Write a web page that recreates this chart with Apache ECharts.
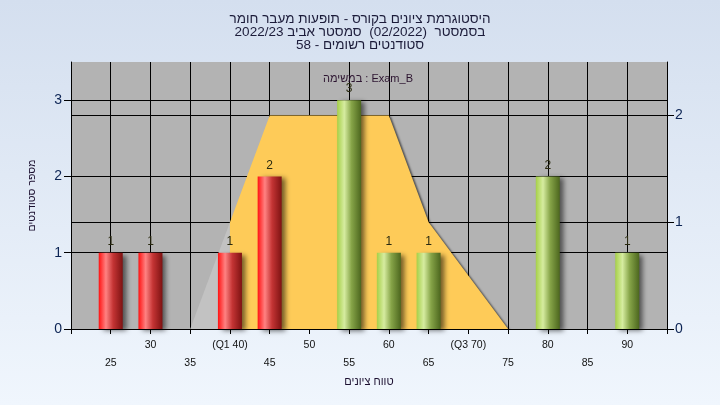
<!DOCTYPE html>
<html>
<head>
<meta charset="utf-8">
<script src="https://cdn.jsdelivr.net/npm/echarts@6/dist/echarts.min.js"></script>
<style>html,body{margin:0;padding:0;}#c{width:720px;height:405px;}</style>
</head>
<body>
<div id="c"></div>
<script>
const titleLines = [
  'היסטוגרמת ציונים בקורס - תופעות מעבר חומר',
  'בסמסטר  (02/2022)  סמסטר אביב 2022/23',
  'סטודנטים רשומים - 58'
];
const legendText = 'במשימה : Exam_B';
const xAxisName = 'טווח ציונים';
const yAxisName = 'מספר סטודנטים';
const xTickValues = [25, 30, 35, 40, 45, 50, 55, 60, 65, 70, 75, 80, 85, 90];
const xTickLabels = ['25', '30', '35', '(Q1 40)', '45', '50', '55', '60', '65', '(Q3 70)', '75', '80', '85', '90'];
const leftTicks = [0, 1, 2, 3];
const rightTicks = [0, 1, 2];
const redX = [25, 30, 40, 45];
const redY = [1, 1, 1, 2];
const greenX = [55, 60, 65, 80, 90];
const greenY = [3, 1, 1, 2, 1];
const curveX = [40, 45, 60, 65, 75];
const curveY = [1, 2, 2, 1, 0];
const lowX = [35, 40];
const lowY = [0, 1];

const zip = (a, b) => a.map((v, i) => [v, b[i]]);
const font = 'Liberation Sans';

const redGrad = new echarts.graphic.LinearGradient(0, 0, 1, 0, [
  {offset: 0, color: '#ff1212'}, {offset: 0.3, color: '#ff8282'},
  {offset: 0.6, color: '#c43434'}, {offset: 1, color: '#7e1212'}]);
const greenGrad = new echarts.graphic.LinearGradient(0, 0, 1, 0, [
  {offset: 0, color: '#a6d048'}, {offset: 0.3, color: '#d6eca0'},
  {offset: 0.6, color: '#86a448'}, {offset: 1, color: '#4c661e'}]);

const barCommon = {
  type: 'bar', barWidth: 24, z: 5,
  label: {show: true, position: 'top', distance: 5, color: '#2a2a10', fontFamily: font, fontSize: 12},
};

const chart = echarts.init(document.getElementById('c'), null, {renderer: 'canvas'});
chart.setOption({
  animation: false,
  backgroundColor: new echarts.graphic.LinearGradient(0, 0, 0, 1, [
    {offset: 0, color: '#d4dfef'}, {offset: 1, color: '#f0f6fd'}]),
  title: {
    text: titleLines.join('\n'), left: 'center', top: 8,
    textStyle: {fontFamily: font, fontSize: 13.5, fontWeight: 'normal', color: '#1c1c3a', lineHeight: 13}
  },
  legend: {
    data: [legendText], top: 67, left: 313, icon: 'none', itemWidth: 0, itemGap: 0,
    textStyle: {fontFamily: font, fontSize: 11, color: '#2c1430'}
  },
  grid: {left: 71, right: 53, top: 62, bottom: 76, show: true, backgroundColor: '#b3b3b3', borderWidth: 0},
  xAxis: {
    type: 'value', min: 20, max: 95, interval: 5,
    name: xAxisName, nameLocation: 'middle', nameGap: 41,
    nameTextStyle: {fontFamily: font, fontSize: 11, color: '#1c1030'},
    axisLine: {show: true, lineStyle: {color: '#000', width: 1}},
    axisTick: {show: true, length: 5, lineStyle: {color: '#000'}},
    splitLine: {show: true, lineStyle: {color: '#000', width: 1}},
    axisLabel: {
      hideOverlap: false, margin: 7, fontFamily: font, fontSize: 10.5, color: '#111', lineHeight: 18,
      formatter: v => {
        const i = xTickValues.indexOf(v);
        if (i < 0) return '';
        return (v % 10 === 5 ? '\n' : '') + xTickLabels[i];
      }
    }
  },
  yAxis: [{
    type: 'value', min: 0, max: 3.5, interval: 1, position: 'left',
    name: yAxisName, nameLocation: 'middle', nameGap: 33,
    nameTextStyle: {fontFamily: font, fontSize: 10.5, color: '#1c1030'},
    axisLine: {show: true, lineStyle: {color: '#000'}},
    axisTick: {show: true, length: 7, lineStyle: {color: '#000'}, customValues: leftTicks},
    splitLine: {show: true, lineStyle: {color: '#000', width: 1}},
    axisLabel: {customValues: leftTicks, margin: 9, fontFamily: font, fontSize: 14, color: '#0c2454'}
  }, {
    type: 'value', min: 0, max: 2.5, interval: 1, position: 'right',
    axisLine: {show: true, lineStyle: {color: '#000'}},
    axisTick: {show: true, length: 7, lineStyle: {color: '#000'}, customValues: rightTicks},
    splitLine: {show: true, lineStyle: {color: '#000', width: 1}},
    axisLabel: {customValues: rightTicks, margin: 8, fontFamily: font, fontSize: 14, color: '#0c2454'}
  }],
  series: [{
    name: 'low', type: 'line', yAxisIndex: 1, data: zip(lowX, lowY), symbol: 'none', z: 1,
    lineStyle: {width: 0}, areaStyle: {color: '#c2c2c2', opacity: 1}
  }, {
    name: 'curve', type: 'line', yAxisIndex: 1, data: zip(curveX, curveY), symbol: 'none', z: 2,
    lineStyle: {width: 0},
    areaStyle: {color: '#fecb58', opacity: 1, shadowColor: 'rgba(0,0,0,0.55)', shadowOffsetX: 2, shadowOffsetY: 1, shadowBlur: 2}
  }, Object.assign({}, barCommon, {
    name: 'red', data: zip(redX, redY), barGap: '-100%',
    itemStyle: {color: redGrad, shadowColor: 'rgba(0,0,0,0.55)', shadowOffsetX: 4, shadowOffsetY: 2, shadowBlur: 5}
  }), Object.assign({}, barCommon, {
    name: legendText, data: zip(greenX, greenY), barGap: '-100%',
    itemStyle: {color: greenGrad, shadowColor: 'rgba(0,0,0,0.55)', shadowOffsetX: 4, shadowOffsetY: 2, shadowBlur: 5}
  })]
});
</script>
</body>
</html>
